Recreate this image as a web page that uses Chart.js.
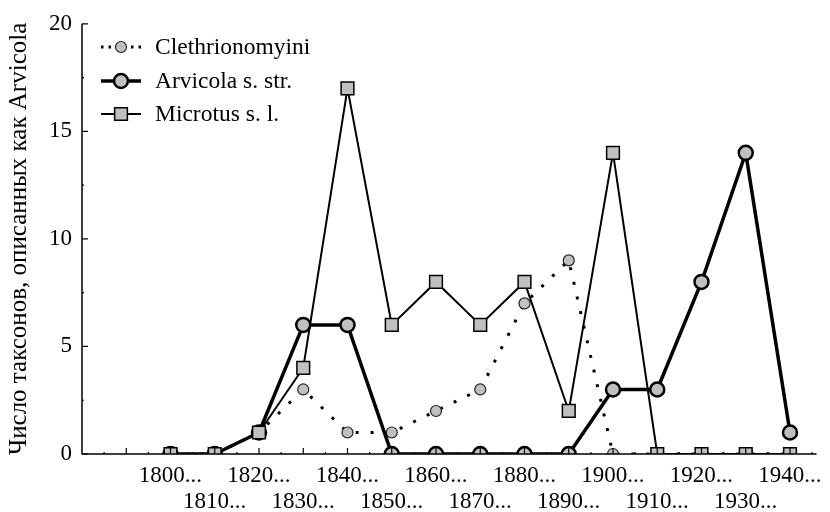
<!DOCTYPE html>
<html>
<head>
<meta charset="utf-8">
<script src="https://cdn.jsdelivr.net/npm/chart.js@4.4.1/dist/chart.umd.min.js"></script>
<style>
  html, body { margin: 0; padding: 0; background: #fff; }
  #wrap { width: 830px; height: 512px; }
</style>
</head>
<body>
<div id="wrap"><canvas id="chart" width="830" height="512"></canvas></div>
<script>
// decades on the x axis
const categories = ["1800...", "1810...", "1820...", "1830...", "1840...", "1850...", "1860...", "1870...",
  "1880...", "1890...", "1900...", "1910...", "1920...", "1930...", "1940..."];

// number of taxa described as Arvicola, by group
const clethrionomyini = [0, 0, 1, 3, 1, 1, 2, 3, 7, 9, 0, 0, 0, 0, 0];
const arvicolaStr = [0, 0, 1, 6, 6, 0, 0, 0, 0, 0, 3, 3, 8, 14, 1];
const microtusSl = [0, 0, 1, 4, 17, 6, 8, 6, 8, 2, 14, 0, 0, 0, 0];

const yTicks = [0, 5, 10, 15, 20];

const FONT = "'Liberation Serif', 'Times New Roman', serif";
const GREY = "#c0c0c0";

const toPoints = (vals) => vals.map((v, i) => ({ x: i, y: v }));

// draws axis lines + inward tick marks on top of the markers, like the original
const axisPlugin = {
  id: "axisPlugin",
  afterDatasetsDraw(chart) {
    const ctx = chart.ctx;
    const area = chart.chartArea;
    const xs = chart.scales.x;
    const ys = chart.scales.y;
    ctx.save();
    ctx.strokeStyle = "#000";
    ctx.lineWidth = 1.5;
    ctx.beginPath();
    ctx.moveTo(area.left, area.top);
    ctx.lineTo(area.left, area.bottom);
    ctx.lineTo(area.right, area.bottom);
    ctx.stroke();

    ctx.lineWidth = 1.2;
    ctx.beginPath();
    // y ticks, major and minor
    for (let v = 0; v <= 20; v += 2.5) {
      const py = ys.getPixelForValue(v);
      const len = v % 5 === 0 ? 6 : 2;
      ctx.moveTo(area.left, py);
      ctx.lineTo(area.left + len, py);
    }
    // x ticks, major and minor
    for (let i = -2; i <= 14.5; i += 0.5) {
      const px = xs.getPixelForValue(i);
      if (px <= area.left + 1) continue;
      const len = Number.isInteger(i) ? 6 : 2;
      ctx.moveTo(px, area.bottom);
      ctx.lineTo(px, area.bottom - len);
    }
    ctx.stroke();
    ctx.restore();
  }
};

// legend drawn in the top-left corner of the plot
const legendPlugin = {
  id: "legendPlugin",
  afterDraw(chart) {
    const ctx = chart.ctx;
    const rows = [47, 81, 114];
    ctx.save();
    ctx.font = "23.5px " + FONT;
    ctx.textBaseline = "middle";
    chart.data.datasets.forEach((ds, r) => {
      const y = rows[r];
      ctx.strokeStyle = "#000";
      ctx.lineWidth = ds.borderWidth;
      ctx.setLineDash(ds.borderDash ? [2.5, 5] : []);
      ctx.beginPath();
      ctx.moveTo(101, y);
      ctx.lineTo(141, y);
      ctx.stroke();
      ctx.setLineDash([]);
      ctx.fillStyle = GREY;
      ctx.strokeStyle = ds.pointBorderColor;
      ctx.lineWidth = ds.pointBorderWidth;
      Chart.helpers.drawPoint(ctx, {
        pointStyle: ds.pointStyle,
        radius: ds.pointRadius,
        borderWidth: ds.pointBorderWidth,
        rotation: 0
      }, 121, y);
      ctx.fillStyle = "#000";
      ctx.fillText(ds.label, 155, y + 1);
    });
    ctx.restore();
  }
};

document.addEventListener("DOMContentLoaded", () => {
  const ctx = document.getElementById("chart").getContext("2d");
  new Chart(ctx, {
    type: "line",
    data: {
      datasets: [
        {
          label: "Clethrionomyini",
          data: toPoints(clethrionomyini),
          borderColor: "#000",
          borderWidth: 3,
          borderDash: [3, 12],
          pointStyle: "circle",
          pointRadius: 5.5,
          pointBorderWidth: 1.2,
          pointBackgroundColor: GREY,
          pointBorderColor: "#222",
          order: 2,
          clip: 0
        },
        {
          label: "Arvicola s. str.",
          data: toPoints(arvicolaStr),
          borderColor: "#000",
          borderWidth: 3.5,
          pointStyle: "circle",
          pointRadius: 7,
          pointBorderWidth: 2.5,
          pointBackgroundColor: GREY,
          pointBorderColor: "#000",
          order: 1,
          clip: 0
        },
        {
          label: "Microtus s. l.",
          data: toPoints(microtusSl),
          borderColor: "#000",
          borderWidth: 2,
          pointStyle: "rect",
          pointRadius: 9,
          pointBorderWidth: 1.5,
          pointBackgroundColor: GREY,
          pointBorderColor: "#000",
          order: 0,
          clip: 0
        }
      ]
    },
    options: {
      responsive: false,
      animation: false,
      layout: { padding: { top: 21, right: 0, left: 0, bottom: 0 } },
      plugins: {
        legend: { display: false },
        tooltip: { enabled: false }
      },
      scales: {
        x: {
          type: "linear",
          min: -2,
          max: 14.6,
          grid: { display: false, drawTicks: false },
          border: { display: false },
          afterFit: (scale) => { scale.height = 58; },
          afterBuildTicks: (scale) => {
            scale.ticks = categories.map((c, i) => ({ value: i }));
          },
          ticks: {
            autoSkip: false,
            maxRotation: 0,
            minRotation: 0,
            padding: 8,
            color: "#000",
            font: { family: FONT, size: 23, lineHeight: 1.17 },
            callback: (value) => {
              const label = categories[value];
              if (label === undefined) return "";
              return value % 2 === 0 ? [label, ""] : ["", label];
            }
          }
        },
        y: {
          min: 0,
          max: 20,
          grid: { display: false, drawTicks: false },
          border: { display: false },
          afterFit: (scale) => { scale.width = 82; },
          afterBuildTicks: (scale) => {
            scale.ticks = yTicks.map((v) => ({ value: v }));
          },
          ticks: {
            padding: 10,
            color: "#000",
            font: { family: FONT, size: 23 }
          },
          title: {
            display: true,
            text: "Число таксонов, описанных как Arvicola",
            color: "#000",
            font: { family: FONT, size: 25 },
            padding: { top: 4, bottom: 0 }
          }
        }
      }
    },
    plugins: [axisPlugin, legendPlugin]
  });
});
</script>
</body>
</html>
